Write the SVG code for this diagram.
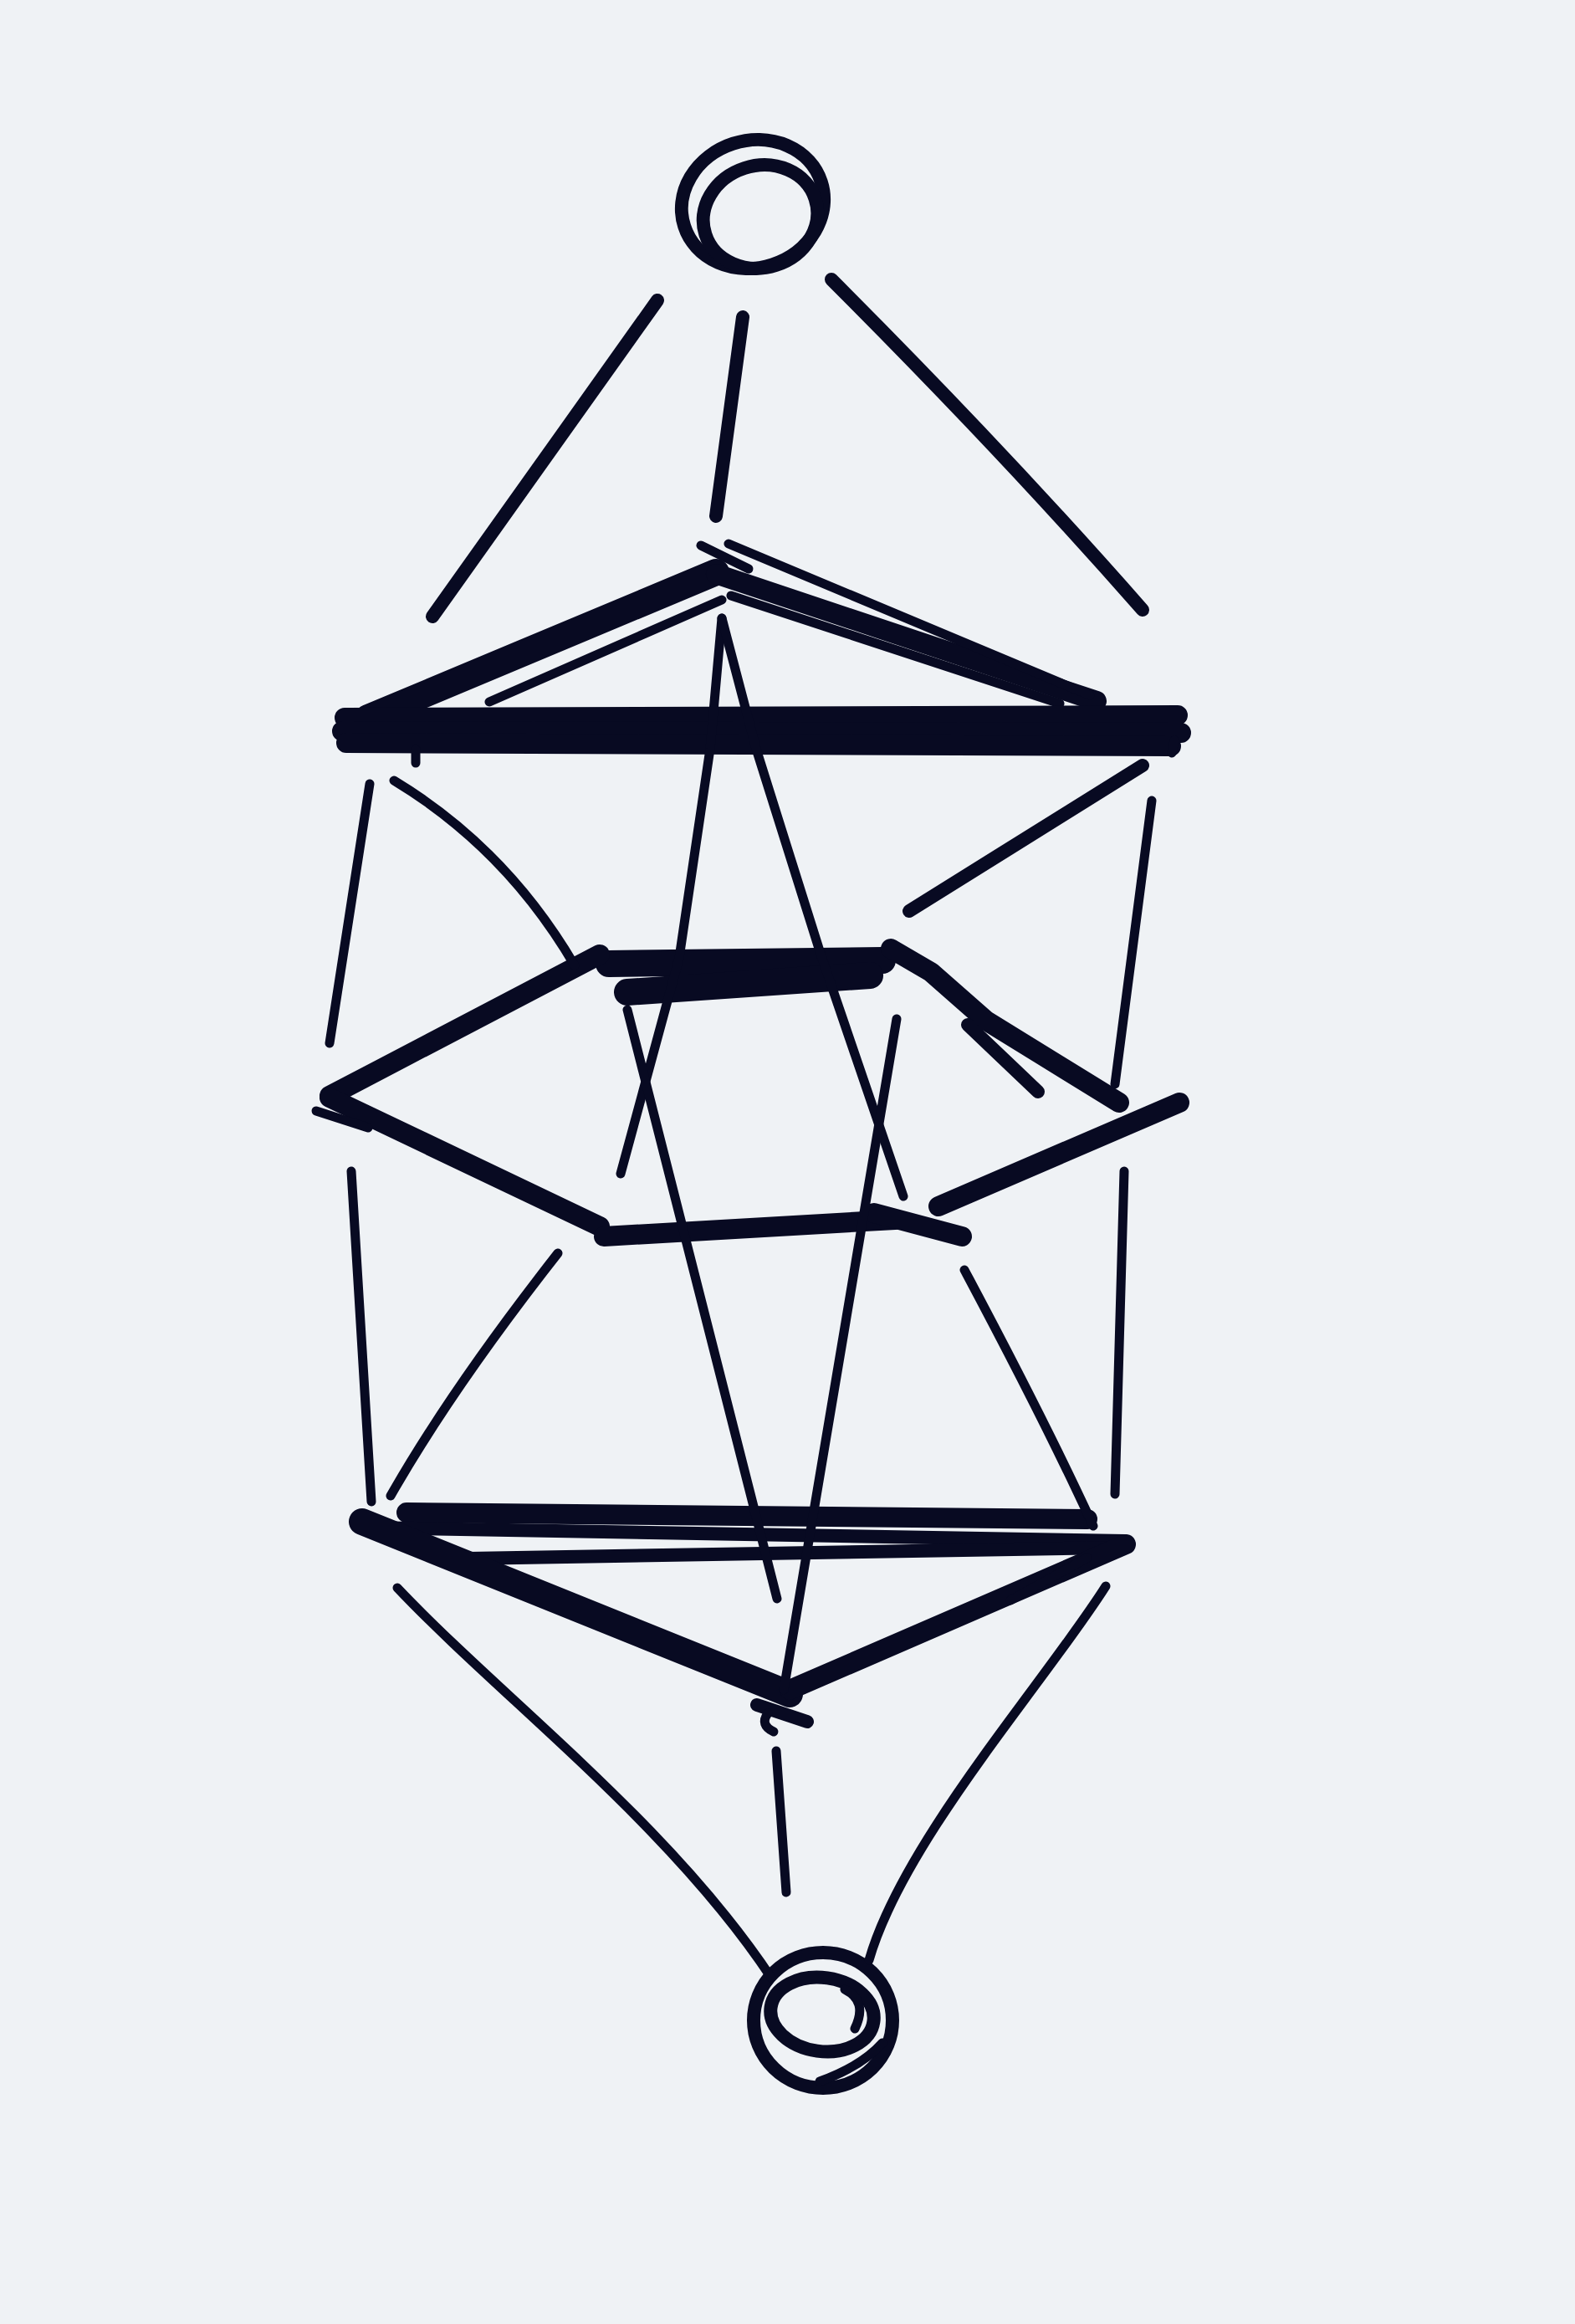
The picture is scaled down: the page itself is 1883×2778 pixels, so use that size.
<svg xmlns="http://www.w3.org/2000/svg" width="1883" height="2778" viewBox="0 0 1883 2778">
<style>
.ink{fill:none;stroke:#080a22;stroke-linecap:round;stroke-linejoin:round}
.t{stroke-width:11}
.m{stroke-width:16}
.k{stroke-width:24}
.kk{stroke-width:32}
</style>
<rect x="0" y="0" width="1883" height="2778" fill="#eff2f5"/>
<g id="top-circle" class="ink">
<ellipse class="m" cx="900" cy="244" rx="86" ry="76" transform="rotate(-18 900 244)"/>
<ellipse class="m" cx="909" cy="259" rx="69" ry="61" transform="rotate(-18 909 259)"/>
</g>
<g id="top-triangle" class="ink">
<path class="kk" d="M440,858 L856,684"/>
<path class="t" d="M585,839 L863,717"/>
<path class="k" d="M856,686 L1311,838"/>
<path class="t" d="M871,650 L1303,831"/>
<path class="t" d="M838,652 L895,680"/>
<path class="t" d="M874,712 L1267,841"/>
<path class="k" d="M412,858 L1408,855"/>
<path class="k" d="M409,874 L1412,876"/>
<path class="k" d="M414,888 L1400,892"/>
<path class="t" d="M497,896 L497,912"/>
<path class="t" d="M1404,885 L1401,900"/>
</g>
<g id="hexagon" class="ink">
<path class="kk" d="M728,1152 L1055,1148"/>
<path class="kk" d="M750,1186 L1040,1166"/>
<path class="k" d="M717,1141 L394,1310"/>
<path class="k" d="M394,1312 L717,1466"/>
<path class="t" d="M378,1328 L440,1348"/>
<path class="k" d="M722,1478 L1070,1458"/>
<path class="k" d="M1045,1450 L1150,1478"/>
<path class="k" d="M1410,1318 L1122,1442"/>
<path class="k" d="M1065,1134 L1113,1162 L1179,1220 L1338,1318"/>
<path class="m" d="M1157,1225 L1241,1305"/>
</g>
<g id="bottom-triangle" class="ink">
<path class="k" d="M486,1808 L1300,1816"/>
<path class="m" d="M440,1826 L1345,1842"/>
<path class="m" d="M560,1863 L1330,1850"/>
<path class="kk" d="M433,1819 L944,2025"/>
<path class="k" d="M1346,1846 L944,2020"/>
<path class="t" d="M1300,1862 L1208,1913"/>
<path class="m" d="M905,2038 L965,2058"/>
<path class="t" d="M918,2048 Q908,2062 925,2070"/>
</g>
<g id="bottom-circle" class="ink">
<ellipse class="m" cx="984" cy="2415" rx="83" ry="81"/>
<ellipse class="m" cx="983" cy="2408" rx="62" ry="44" transform="rotate(8 983 2408)"/>
<path class="t" d="M1010,2378 Q1038,2392 1022,2425"/>
<path class="t" d="M980,2488 Q1030,2470 1055,2442"/>
</g>
<g id="connectors" class="ink">
<path class="m" d="M786,359 L517,737"/>
<path class="m" d="M888,379 L856,617"/>
<path class="m" d="M994,334 Q1200,540 1366,729"/>
<path class="t" d="M442,937 L394,1247"/>
<path class="t" d="M471,933 Q605,1014 687,1154"/>
<path class="m" d="M1366,915 L1087,1089"/>
<path class="t" d="M1377,957 L1333,1296"/>
<path class="t" d="M863,739 L849,895 L812,1145 L742,1403"/>
<path class="t" d="M863,739 L904,895 L981,1140 L1080,1430"/>
<path class="t" d="M750,1207 L929,1911"/>
<path class="t" d="M1072,1218 L937,2020"/>
<path class="t" d="M420,1400 L444,1795"/>
<path class="t" d="M667,1498 Q540,1660 467,1788"/>
<path class="t" d="M1153,1518 Q1250,1700 1307,1824"/>
<path class="t" d="M1344,1400 L1333,1786"/>
<path class="t" d="M475,1898 C600,2030 800,2180 922,2364"/>
<path class="t" d="M928,2093 L940,2262"/>
<path class="t" d="M1322,1896 C1250,2010 1080,2200 1039,2343"/>
</g>
</svg>
